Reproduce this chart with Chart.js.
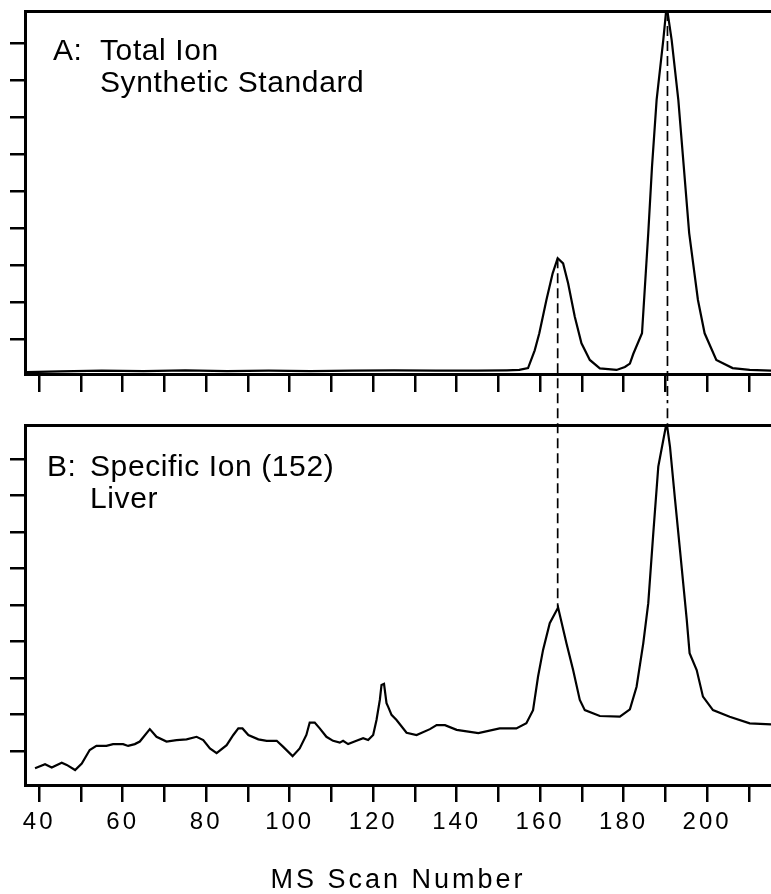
<!DOCTYPE html>
<html>
<head>
<meta charset="utf-8">
<title>MS Scan Number</title>
<script src="https://cdn.jsdelivr.net/npm/chart.js@4.4.0/dist/chart.umd.min.js"></script>
<style>
  html, body { margin: 0; padding: 0; background: #fff; }
  canvas { display: block; }
</style>
</head>
<body>
<canvas id="panelA" width="771" height="400"></canvas>
<canvas id="panelB" width="771" height="494"></canvas>
<script>
// scan axis ticks, labels only every 20
const scanTicks = [40, 50, 60, 70, 80, 90, 100, 110, 120, 130, 140, 150, 160, 170, 180, 190, 200, 210];
const scanLabels = [40, 60, 80, 100, 120, 140, 160, 180, 200];
// intensity tick marks (no labels in the figure)
const intensityTicks = [10, 20, 30, 40, 50, 60, 70, 80, 90];

// A: total ion, synthetic standard
const scanA = [37, 45, 55, 65, 75, 85, 95, 105, 115, 125, 135, 145, 152, 155.0, 157.1, 158.7, 159.8, 161.5, 163.0, 164.2,
  165.5, 166.7, 168.3, 169.9, 171.9, 174.3, 178.3, 180.3, 181.5, 182.3, 184.4, 185.9, 186.8, 187.9, 189.5, 190.3,
  191.5, 193.1, 194.4, 195.7, 197.8, 199.4, 202.2, 206.1, 210.2, 215.3];
const totalIon = [1.0, 1.2, 1.4, 1.3, 1.5, 1.3, 1.4, 1.3, 1.4, 1.5, 1.4, 1.4, 1.5, 1.6, 2.1, 6.9, 11.5, 20.5, 27.7, 31.8,
  30.4, 25.0, 16.0, 8.8, 4.3, 2.0, 1.6, 2.4, 3.3, 5.9, 11.5, 38.6, 56.6, 74.6, 90.8, 100,
  90.8, 74.6, 56.6, 38.6, 20.5, 11.5, 4.3, 2.1, 1.6, 1.4];

// B: specific ion (152), liver
const scanB = [39.0, 41.4, 43.0, 45.4, 46.6, 48.6, 50.2, 52.1, 53.7, 56.1, 57.7, 60.1, 61.3, 62.9, 64.1, 66.5, 68.1,
  70.5, 72.9, 75.3, 77.7, 79.3, 80.9, 82.5, 84.9, 86.5, 87.7, 88.7, 90.1, 92.5, 94.5, 96.9, 98.4, 100.7, 102.4,
  104.0, 104.8, 106.0, 107.2, 108.8, 110.4, 112.0, 112.8, 114.0, 116.0, 117.6, 118.8, 120.0, 120.8, 121.6, 122.0,
  122.6, 123.2, 123.6, 124.4, 125.6, 128.0, 130.4, 133.6, 135.2, 137.2, 140.0, 145.2, 150.3, 154.3, 156.7, 158.3,
  159.5, 160.7, 162.3, 164.3, 166.3, 167.9, 169.5, 170.7, 174.3, 179.1, 181.5, 183.1, 184.7, 185.9, 187.1, 188.3,
  189.5, 190.3, 191.1, 192.3, 193.5, 195.1, 195.8, 197.5, 199.0, 201.4, 205.4, 210.2, 215.3];
const specificIon = [5.3, 6.4, 5.5, 6.8, 6.2, 4.8, 6.6, 10.3, 11.4, 11.4, 11.9, 11.9, 11.4, 11.9, 12.6, 16.0, 13.9,
  12.6, 13.0, 13.2, 13.9, 13.0, 10.7, 9.4, 11.6, 14.4, 16.2, 16.2, 14.4, 13.2, 12.8, 12.8, 11.2, 8.6, 10.7,
  14.4, 17.8, 17.8, 16.2, 13.9, 12.8, 12.3, 12.8, 11.9, 12.8, 13.5, 13.0, 14.4, 18.5, 24.0, 28.1,
  28.4, 23.1, 22.1, 19.9, 18.5, 15.0, 14.4, 16.0, 17.1, 17.1, 15.8, 14.9, 16.2, 16.2, 17.6, 21.2,
  30.4, 37.7, 45.0, 49.3, 39.5, 32.2, 24.0, 21.2, 19.6, 19.4, 21.4, 27.6, 39.5, 50.5, 69.6, 87.9,
  95.2, 100, 93.4, 79.0, 65.0, 46.2, 36.8, 32.2, 24.9, 21.2, 19.4, 17.6, 17.3];

// matching peaks, joined by dashed lines across both panels
const peakScans = [164.2, 190.5];
const peakTopA = [31.8, 98.6];
const peakTopB = [49.3, 99.1];

const fontFamily = '"Liberation Sans", Arial, sans-serif';
Chart.defaults.font.family = fontFamily;
Chart.defaults.color = '#000';

function toPoints(xs, ys) {
    return xs.map(function (x, i) { return { x: x, y: ys[i] }; });
}

function guide(scan, from, to) {
    return {
        data: [{ x: scan, y: from }, { x: scan, y: to }],
        borderColor: '#000',
        borderWidth: 1.7,
        borderDash: [10, 5],
        clip: false
    };
}

// panel caption drawn inside the plot area
function panelLabel(id, tag, lines, dx, indent, dy) {
    return {
        id: id,
        afterDraw: function (chart) {
            const ctx = chart.ctx;
            const area = chart.chartArea;
            ctx.save();
            ctx.font = '30px ' + fontFamily;
            ctx.fillStyle = '#000';
            ctx.letterSpacing = '0.6px';
            ctx.fillText(tag, area.left + dx, area.top + dy);
            lines.forEach(function (t, i) {
                ctx.fillText(t, area.left + indent, area.top + dy + i * 32);
            });
            ctx.restore();
        }
    };
}

// wide lettering for the scan axis labels and title
const spacedAxisText = {
    id: 'spacedAxisText',
    beforeDraw: function (chart) { chart.ctx.letterSpacing = '3px'; },
    beforeDatasetsDraw: function (chart) { chart.ctx.letterSpacing = '0px'; }
};

function scales(yMin, yMax, showLabels, bottomHeight) {
    return {
        x: {
            type: 'linear',
            min: 36.6,
            max: 215.3,
            afterBuildTicks: function (axis) {
                axis.ticks = scanTicks.map(function (v) { return { value: v }; });
            },
            afterFit: function (axis) { axis.height = bottomHeight; },
            grid: { drawOnChartArea: false, tickLength: showLabels ? 17 : 18, lineWidth: 2.5, color: '#000' },
            border: { width: 3, color: '#000' },
            ticks: {
                display: showLabels,
                autoSkip: false,
                maxRotation: 0,
                padding: 6,
                font: { size: 24 },
                callback: function (v) { return scanLabels.indexOf(v) >= 0 ? String(v) : ''; }
            },
            title: {
                display: showLabels,
                text: 'MS Scan Number',
                font: { size: 27, lineHeight: 1 },
                padding: { top: 0, bottom: 0 }
            }
        },
        xTop: {
            type: 'linear',
            position: 'top',
            min: 36.6,
            max: 215.3,
            afterFit: function (axis) { axis.height = 0; },
            grid: { display: false, drawTicks: false },
            border: { width: 3, color: '#000' },
            ticks: { display: false }
        },
        y: {
            min: yMin,
            max: yMax,
            afterBuildTicks: function (axis) {
                axis.ticks = intensityTicks.map(function (v) { return { value: v }; });
            },
            afterFit: function (axis) { axis.width = 15; },
            grid: { drawOnChartArea: false, tickLength: 15, lineWidth: 2.5, color: '#000' },
            border: { width: 3, color: '#000' },
            ticks: { display: false }
        }
    };
}

const common = {
    responsive: false,
    animation: false,
    events: [],
    elements: { point: { radius: 0 }, line: { tension: 0 } },
    plugins: { legend: { display: false }, tooltip: { enabled: false } }
};

new Chart('panelA', {
    type: 'line',
    data: {
        datasets: [
            { data: toPoints(scanA, totalIon), borderColor: '#000', borderWidth: 2.2 },
            guide(peakScans[0], peakTopA[0], -8),
            guide(peakScans[1], peakTopA[1], -8)
        ]
    },
    options: Object.assign({}, common, {
        layout: { padding: { top: 11, left: 10, right: 0, bottom: 0 } },
        scales: scales(0.5, 98.6, false, 26)
    }),
    plugins: [panelLabel('labelA', 'A:', ['Total Ion', 'Synthetic Standard'], 28, 75, 49)]
});

new Chart('panelB', {
    type: 'line',
    data: {
        datasets: [
            { data: toPoints(scanB, specificIon), borderColor: '#000', borderWidth: 2.2 },
            guide(peakScans[0], 108, peakTopB[0]),
            guide(peakScans[1], 108, peakTopB[1])
        ]
    },
    options: Object.assign({}, common, {
        layout: { padding: { top: 25.7, left: 10, right: 0, bottom: 0 } },
        scales: scales(0.7, 99.1, true, 109)
    }),
    plugins: [spacedAxisText, panelLabel('labelB', 'B:', ['Specific Ion (152)', 'Liver'], 22, 65, 50)]
});
</script>
</body>
</html>
